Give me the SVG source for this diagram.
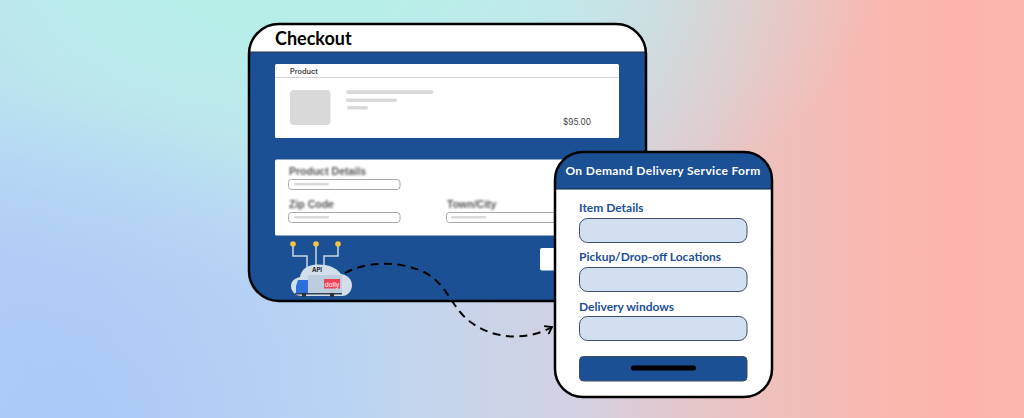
<svg xmlns="http://www.w3.org/2000/svg" width="1024" height="418" viewBox="0 0 1024 418">
<style>
.sk{fill:#d9d9d9}
.fld{fill:#fff;stroke:#a8a8a8;stroke-width:1}
.bl{font-family:"Liberation Sans",sans-serif;font-weight:700;font-size:10.5px;fill:#555;filter:url(#b)}
.lab{font-family:Lato,"Liberation Sans",sans-serif;font-weight:700;font-size:12px;fill:#1c5094}
.inp{fill:#d1dff0;stroke:#3d4d66;stroke-width:1}
.wire{fill:none;stroke:#c9d6e4;stroke-width:1.5}
.dot{fill:#f5c242}
</style>
<defs>
<linearGradient id="g" x1="0" y1="0" x2="1" y2="0"><stop offset="0" stop-color="#b4d0f6"/><stop offset=".35" stop-color="#bcd6f0"/><stop offset=".55" stop-color="#d2d2e4"/><stop offset=".75" stop-color="#efc0bc"/><stop offset=".92" stop-color="#fdb4aa"/><stop offset="1" stop-color="#fcb6ac"/></linearGradient>
<radialGradient id="c1" gradientUnits="userSpaceOnUse" cx="280" cy="-40" r="600" gradientTransform="translate(280 -40) scale(1 .55) translate(-280 40)"><stop offset="0" stop-color="#b2f1e5"/><stop offset=".45" stop-color="#bceeea" stop-opacity=".85"/><stop offset="1" stop-color="#c4ecee" stop-opacity="0"/></radialGradient>
<radialGradient id="c2" gradientUnits="userSpaceOnUse" cx="60" cy="430" r="340"><stop offset="0" stop-color="#abc9f8"/><stop offset="1" stop-color="#abc9f8" stop-opacity="0"/></radialGradient>
<filter id="b" x="-10%" y="-30%" width="120%" height="160%"><feGaussianBlur stdDeviation=".8"/></filter>
<marker id="ah" markerWidth="10" markerHeight="10" refX="8" refY="5" orient="auto" markerUnits="userSpaceOnUse"><path d="M1.500 .5L8 5L1.500 9.500" fill="none" stroke="#000" stroke-width="1.800"/></marker>
</defs>
<g id="background"><rect width="1024" height="418" fill="url(#g)"/><rect width="1024" height="418" fill="url(#c1)"/><rect width="1024" height="418" fill="url(#c2)"/></g>
<g id="checkout">
<rect x="249" y="24" width="397" height="277" rx="30" fill="#1c5094"/>
<path d="M249 52C250 36 263 24 279 24H616C632 24 645 36 646 52Z" fill="#fff"/>
<line x1="249" y1="52" x2="646" y2="52" stroke="#2a3340" stroke-width="1"/>
<rect x="249" y="24" width="397" height="277" rx="30" fill="none" stroke="#000" stroke-width="2.500"/>
<text x="275" y="45" font-family="Lato,'Liberation Sans',sans-serif" font-weight="700" font-size="18" fill="#000">Checkout</text>
</g>
<g id="product-card">
<rect x="275" y="64" width="344" height="74" rx="1.500" fill="#fff"/>
<line x1="275" y1="77.500" x2="619" y2="77.500" stroke="#d4d4d4" stroke-width="1"/>
<text x="290" y="73.500" font-family="Inter,'Liberation Sans',sans-serif" font-weight="600" font-size="7.300" fill="#444">Product</text>
<rect class="sk" x="290" y="90" width="40.500" height="35" rx="4"/>
<rect class="sk" x="346" y="90.300" width="87.500" height="3.600" rx="1.800"/>
<rect class="sk" x="346" y="98.500" width="51" height="3.400" rx="1.700"/>
<rect class="sk" x="347" y="106" width="21" height="3.400" rx="1.700"/>
<text x="563" y="125" font-family="Inter,'Liberation Sans',sans-serif" font-size="8.300" fill="#444">$95.00</text>
</g>
<g id="details-card">
<rect x="275" y="159.500" width="300" height="76" rx="1.500" fill="#fff"/>
<text class="bl" x="289" y="175">Product Details</text>
<rect class="fld" x="288.500" y="179.500" width="111.500" height="10" rx="3"/>
<rect class="sk" x="294" y="182.800" width="35" height="2.600" rx="1.300"/>
<text class="bl" x="289" y="208">Zip Code</text>
<rect class="fld" x="288.500" y="212.500" width="111.500" height="10" rx="3"/>
<rect class="sk" x="294" y="216" width="35" height="2.600" rx="1.300"/>
<text class="bl" x="447" y="208">Town/City</text>
<rect class="fld" x="446.500" y="212.500" width="125" height="10" rx="3"/>
<rect class="sk" x="451" y="216" width="35" height="2.600" rx="1.300"/>
</g>
<rect id="hidden-button" x="540" y="248" width="20" height="22.500" rx="2" fill="#fff"/>
<g id="api-cloud">
<path class="wire" d="M293 244V256H307V268M316 244V266M338 244V256H324V268"/>
<circle class="dot" cx="293" cy="244" r="2.800"/><circle class="dot" cx="316" cy="244" r="2.800"/><circle class="dot" cx="338" cy="244" r="2.800"/>
<path d="M302 296C295 296 291 291 291 286C291 281 295 278 300 277C301 270 307 265 316 264.500C327 264 336 267 341 274C348 275 352 280 352 285C352 291 348 296 342 296Z" fill="#d2deea"/>
<text x="317" y="272" text-anchor="middle" font-family="Inter,'Liberation Sans',sans-serif" font-weight="700" font-size="6" fill="#222">API</text>
<rect x="308" y="275" width="34" height="18" fill="#bccddd"/>
<rect x="324" y="279" width="16" height="9.500" fill="#ee4256"/>
<text x="332" y="286.500" text-anchor="middle" font-family="'Liberation Sans',sans-serif" font-size="7" fill="#fff">dolly</text>
<path d="M298 280H308V293H296V286Z" fill="#2f6fdc"/>
<rect x="295" y="293" width="47" height="1.500" fill="#34414e"/>
<circle cx="304" cy="295" r="2.200" fill="#2b3138"/><circle cx="332" cy="295" r="2.200" fill="#2b3138"/>
</g>
<g id="connectors">
<path d="M345 273C362 263 395 259 424 272C448 284 452 310 472 323C492 338 525 342 552 327" fill="none" stroke="#000" stroke-width="2" stroke-dasharray="8 5.500" marker-end="url(#ah)"/>
</g>
<g id="delivery-form">
<rect x="555" y="152" width="217" height="245" rx="28" fill="#fff"/>
<path d="M555 189V180A28 28 0 0 1 583 152H744A28 28 0 0 1 772 180V189Z" fill="#1c5094"/>
<line x1="555" y1="189" x2="772" y2="189" stroke="#0b2040" stroke-width="1"/>
<rect x="555" y="152" width="217" height="245" rx="28" fill="none" stroke="#000" stroke-width="2.500"/>
<text x="663" y="175" text-anchor="middle" font-family="Lato,'Liberation Sans',sans-serif" font-weight="700" font-size="12" letter-spacing=".35" fill="#fff">On Demand Delivery Service Form</text>
<text class="lab" x="579" y="212">Item Details</text>
<rect class="inp" x="579.500" y="218.500" width="167.500" height="24" rx="8"/>
<text class="lab" x="579" y="261">Pickup/Drop-off Locations</text>
<rect class="inp" x="579.500" y="267.500" width="167.500" height="24" rx="8"/>
<text class="lab" x="579" y="311">Delivery windows</text>
<rect class="inp" x="579.500" y="316.500" width="167.500" height="24" rx="8"/>
<rect x="579.500" y="356.500" width="167.500" height="24.500" rx="4" fill="#1c5094" stroke="#3d4d66" stroke-width="1"/>
<rect x="631" y="365.500" width="65" height="5" rx="2.500" fill="#000"/>
</g>
</svg>
